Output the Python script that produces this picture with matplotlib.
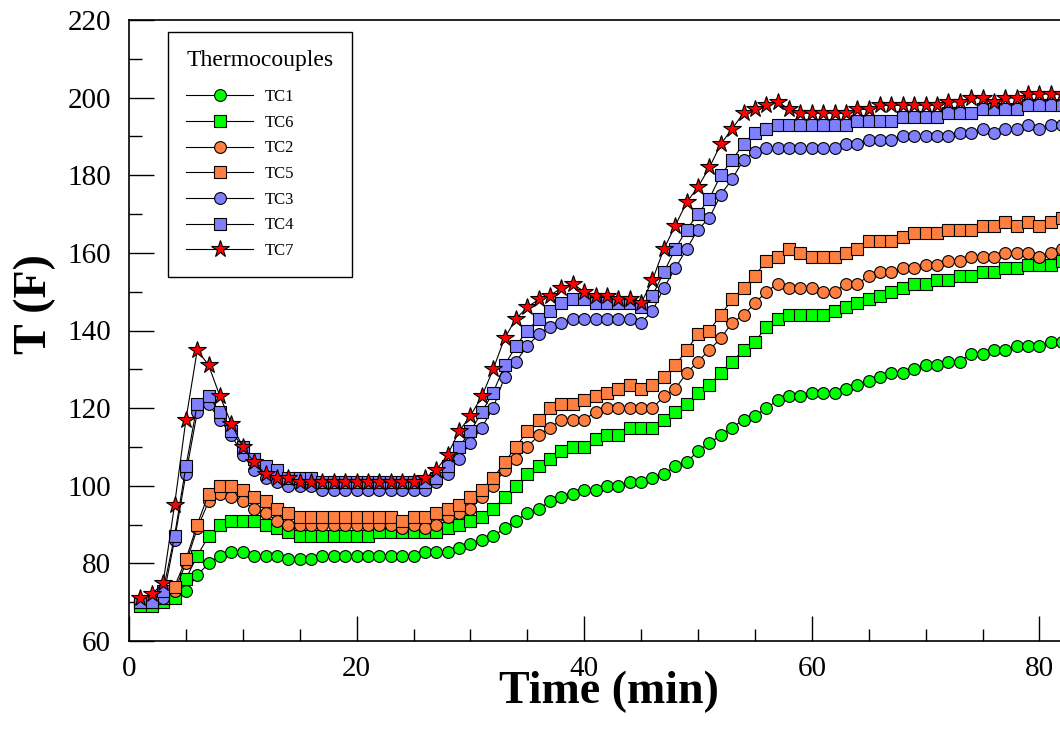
import matplotlib
matplotlib.use('Agg')
import matplotlib.pyplot as plt
from matplotlib.ticker import MultipleLocator

plt.rcParams['font.family'] = ['Liberation Serif', 'DejaVu Serif']

# sample times, one reading per minute
time_min = list(range(1, 83))

# thermocouple readings (F)
tc1 = [70, 70, 70, 71, 73, 77, 80, 82, 83, 83, 82, 82, 82, 81, 81, 81,
       82, 82, 82, 82, 82, 82, 82, 82, 82,
       83, 83, 83, 84, 85, 86, 87, 89, 91, 93, 94, 96, 97, 98, 99, 99, 100, 100, 101, 101,
       102, 103, 105, 106, 109, 111, 113, 115, 117, 118, 120, 122, 123, 123, 124, 124, 124, 125, 126, 127,
       128, 129, 129, 130, 131, 131, 132, 132, 134, 134, 135, 135, 136, 136, 136, 137, 137]
tc6 = [69, 69, 70, 71, 76, 82, 87, 90, 91, 91, 91, 90, 89, 88,
       87, 87, 87, 87, 87, 87, 87,
       88, 88, 88, 88, 88, 88,
       89, 90, 91, 92, 94, 97, 100, 103, 105, 107, 109, 110, 110, 112, 113, 113, 115, 115, 115, 117,
       119, 121, 124, 126, 129, 132, 135, 137, 141, 143, 144, 144, 144, 144, 145, 146, 147, 148, 149, 150,
       151, 152, 152, 153, 153, 154, 154, 155, 155, 156, 156, 157, 157, 157, 158]
tc2 = [70, 70, 71, 73, 80, 89, 96, 98, 97, 96, 94, 93, 91, 90,
       90, 90, 90, 90, 90, 90, 90, 90, 90,
       89, 90, 89, 90, 92, 93, 94, 97, 100, 104, 107, 110, 113, 115, 117, 117, 117, 119, 120, 120,
       120, 120, 120, 123, 125, 129, 132, 135, 138, 142, 144, 147, 150, 152, 151, 151, 151, 150, 150, 152,
       152, 154, 155, 155, 156, 156, 157, 157, 158, 158, 159, 159, 159, 160, 160, 160, 159, 160, 161]
tc5 = [70, 70, 71, 74, 81, 90, 98, 100, 100, 99, 97, 96, 94, 93,
       92, 92, 92, 92, 92, 92, 92, 92, 92,
       91, 92, 92, 93, 94, 95, 97, 99, 102, 106, 110, 114, 117, 120, 121, 121, 122, 123, 124, 125,
       126, 125, 126, 128, 131, 135, 139, 140, 144, 148, 151, 154, 158, 159, 161, 160, 159, 159, 159, 160,
       161, 163, 163, 163, 164, 165, 165, 165, 166, 166, 166, 167, 167, 168, 167, 168, 167, 168, 169]
tc3 = [70, 70, 71, 86, 103, 119, 121, 117, 113, 108, 104, 102, 101, 100, 100, 100,
       99, 99, 99, 99, 99, 99, 99, 99, 99, 99,
       101, 103, 107, 111, 115, 120, 128, 132, 136, 139, 141, 142, 143, 143, 143, 143, 143, 143, 142,
       145, 151, 156, 161, 166, 169, 175, 179, 184, 186, 187,
       187, 187, 187, 187, 187, 187,
       188, 188, 189, 189, 189, 190, 190, 190, 190, 190, 191, 191, 192, 191, 192, 192, 193, 192, 193, 193]
tc4 = [70, 70, 73, 87, 105, 121, 123, 119, 114, 110, 107, 105, 104, 102, 102, 102,
       101, 101, 101, 101, 101, 101, 101, 101, 101, 101,
       102, 105, 110, 114, 119, 124, 131, 136, 140, 143, 145, 147, 148, 148, 147, 147, 147, 147, 146,
       149, 155, 161, 166, 170, 174, 180, 184, 188, 191, 192, 193,
       193, 193, 193, 193, 193, 193, 194, 194, 194, 194, 195, 195, 195, 195,
       196, 196, 196, 197, 197, 197, 197, 198, 198, 198, 198]
tc7 = [71, 72, 75, 95, 117, 135, 131, 123, 116, 110, 106, 103, 102, 102,
       101, 101, 101, 101, 101, 101, 101, 101, 101, 101, 101,
       102, 104, 108, 114, 118, 123, 130, 138, 143, 146, 148, 149, 151, 152, 150, 149, 149, 148, 148, 147,
       153, 161, 167, 173, 177, 182, 188, 192, 196, 197, 198, 199, 197, 196, 196, 196, 196, 196, 197, 197,
       198, 198, 198, 198, 198, 198, 199, 199, 200, 200, 199, 200, 200, 201, 201, 201, 201]

series = [
    ('TC1', tc1, 'o', '#00ff00', 8.5),
    ('TC6', tc6, 's', '#00ff00', 8.0),
    ('TC2', tc2, 'o', '#ff7f40', 8.5),
    ('TC5', tc5, 's', '#ff7f40', 8.0),
    ('TC3', tc3, 'o', '#8080ff', 8.5),
    ('TC4', tc4, 's', '#8080ff', 8.0),
    ('TC7', tc7, '*', '#ff0000', 13.0),
]

fig = plt.figure(figsize=(10.6, 7.42), dpi=100)
# plot area runs off the right edge of the picture, as in the original
ax = fig.add_axes([129 / 1060, 101 / 742, 100 * 11.38 / 1060, 621 / 742])

for name, vals, mk, col, ms in series:
    ax.plot(time_min, vals, marker=mk, color='black', lw=0.8,
            mfc=col, mec='black', mew=0.8, ms=ms, label=name)

ax.set_xlim(0, 100)
ax.set_ylim(60, 220)
ax.xaxis.set_major_locator(MultipleLocator(20))
ax.xaxis.set_minor_locator(MultipleLocator(5))
ax.yaxis.set_major_locator(MultipleLocator(20))
ax.yaxis.set_minor_locator(MultipleLocator(10))
ax.tick_params(which='both', direction='in', width=1, top=False, right=False,
               labelsize=21, colors='black')
ax.tick_params(which='major', length=18)
ax.tick_params(which='minor', length=9)
ax.tick_params(axis='x', which='major', pad=11)
ax.tick_params(axis='y', which='major', pad=13)
for sp in ax.spines.values():
    sp.set_linewidth(1.2)

ax.set_xlabel('Time (min)', fontsize=33, fontweight='bold')
ax.set_ylabel('T (F)', fontsize=33, fontweight='bold')
ax.xaxis.label.set_va('center')
ax.yaxis.label.set_va('center')
ax.xaxis.set_label_coords((609 - 129) / 1138, (641 - 692) / 621)
ax.yaxis.set_label_coords((35 - 129) / 1138, (641 - 304) / 621)

leg = ax.legend(loc='upper left', bbox_to_anchor=(168 / 1060, 710 / 742),
                bbox_transform=fig.transFigure, title='Thermocouples',
                fontsize=12, title_fontsize=17, frameon=True, fancybox=False,
                edgecolor='black', framealpha=1, borderaxespad=0,
                handlelength=4, handletextpad=0.7, labelspacing=0.58,
                borderpad=1.1, alignment='left')
leg.get_frame().set_linewidth(1.0)
# a bit more room between the title and the first entry
leg._legend_box.sep = 0.58 * 12 + 5.8

fig.savefig('out.png', dpi=100)
